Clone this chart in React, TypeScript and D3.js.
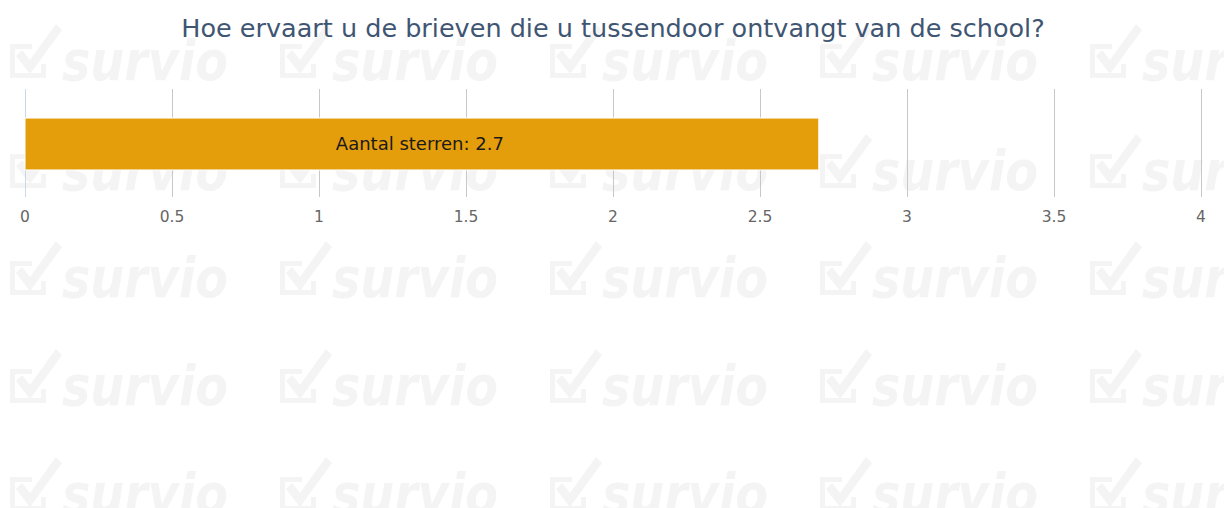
import React from 'react';
import * as d3 from 'd3';

const categories = ['Aantal sterren'];
const values = [2.7];
const ticks = [0, 0.5, 1, 1.5, 2, 2.5, 3, 3.5, 4];
const title = 'Hoe ervaart u de brieven die u tussendoor ontvangt van de school?';

const W = 1224;
const H = 508;
const font = 'DejaVu Sans, sans-serif';

// background watermark, repeated over the whole picture
function Watermark({ x, y }: { x: number; y: number }) {
  return (
    <g transform={`translate(${x},${y})`} fill="#f4f4f4" stroke="none">
      <path d="M2,-36 L2,-2 L38,-2 L38,-16 L33,-16 L33,-7 L7,-7 L7,-31 L24,-31 L24,-36 Z" />
      <path d="M8,-24 L14,-30 L22,-20 L48,-56 L54,-50 L22,-6 Z" />
      <text
        x={54} y={0} fontFamily={font} fontSize={56} fontWeight="bold" fontStyle="italic"
        textLength={166} lengthAdjust="spacingAndGlyphs"
      >
        survio
      </text>
    </g>
  );
}

export default function App() {
  const x = d3.scaleLinear().domain([0, 4]).range([25, 1201]);
  const gridTop = 89;
  const gridBottom = 197;
  const y = d3.scaleBand().domain(categories).range([gridTop + 1, gridBottom + 1])
    .paddingInner(0).paddingOuter(0.54);

  const rows = [80, 190, 297, 405, 513];
  const cols = [8, 278, 548, 818, 1088];

  return (
    <svg width={W} height={H} style={{ position: 'absolute', left: 0, top: 0, background: '#fff' }}>
      {rows.map(r => cols.map(c => <Watermark key={`${r}-${c}`} x={c} y={r} />))}
      <text x={W / 2 + 1} y={37} textAnchor="middle" fontFamily={font} fontSize={25.5} fill="#3f5673">
        {title}
      </text>
      {ticks.map(t => (
        <g key={t}>
          <line
            x1={Math.round(x(t)) + 0.5} x2={Math.round(x(t)) + 0.5} y1={gridTop} y2={gridBottom}
            stroke={t === 0 ? '#ccd6eb' : '#c8c8c8'} strokeWidth={1}
          />
          <text x={x(t)} y={222} textAnchor="middle" fontFamily={font} fontSize={15.5} fill="#666">
            {t}
          </text>
        </g>
      ))}
      {categories.map((c, i) => (
        <g key={c}>
          <rect
            x={x(0)} y={y(c)} width={x(values[i]) - x(0)} height={y.bandwidth()}
            fill="#e59e0b" stroke="#fff" strokeWidth={1}
          />
          <text
            x={(x(0) + x(values[i])) / 2 - 2} y={(y(c) as number) + y.bandwidth() / 2 + 6}
            textAnchor="middle" fontFamily={font} fontSize={18} fill="#1a1a1a"
          >
            {`${c}: ${values[i]}`}
          </text>
        </g>
      ))}
    </svg>
  );
}
